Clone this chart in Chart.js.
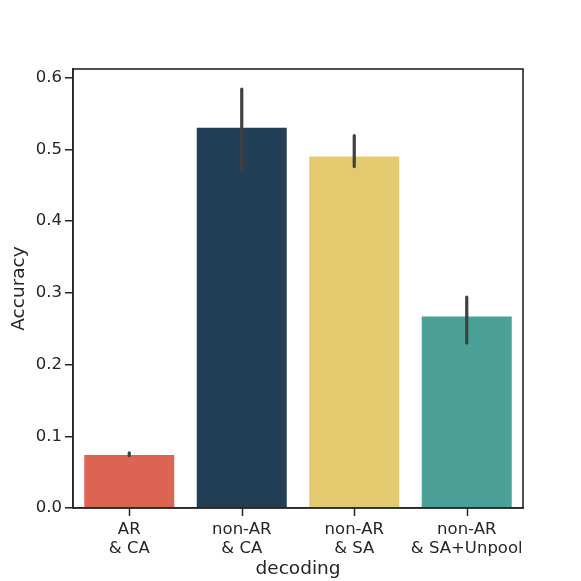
<!DOCTYPE html>
<html lang="en">
<head>
<meta charset="UTF-8">
<title>Accuracy by decoding</title>
<script src="https://cdn.jsdelivr.net/npm/chart.js"></script>
<style>
    html, body { margin: 0; padding: 0; background: #fff; }
    #wrap { width: 581px; height: 581px; }
</style>
</head>
<body>
<div id="wrap"><canvas id="myChart" width="581" height="581"></canvas></div>
<script>
    // data
    const categories = [['AR', '& CA'], ['non-AR', '& CA'], ['non-AR', '& SA'], ['non-AR', '& SA+Unpool']];
    const accuracy = [0.074, 0.530, 0.490, 0.267];
    const errLow = [0.073, 0.471, 0.476, 0.230];
    const errHigh = [0.077, 0.584, 0.519, 0.294];
    const yTicks = [0.0, 0.1, 0.2, 0.3, 0.4, 0.5, 0.6];
    const barColors = ['#db6552', '#233e57', '#e3ca6f', '#4ba097'];

    const ink = '#262626';

    // error bars, x tick marks under each bar, closed frame
    const extras = {
        id: 'extras',
        afterDraw(chart) {
            const ctx = chart.ctx;
            const x = chart.scales.x, y = chart.scales.y;
            const a = chart.chartArea;
            ctx.save();
            ctx.strokeStyle = '#404040';
            ctx.lineWidth = 3.2;
            ctx.lineCap = 'round';
            errLow.forEach((lo, i) => {
                const px = x.getPixelForValue(i);
                ctx.beginPath();
                ctx.moveTo(px, y.getPixelForValue(lo));
                ctx.lineTo(px, y.getPixelForValue(errHigh[i]));
                ctx.stroke();
            });
            ctx.strokeStyle = ink;
            ctx.lineCap = 'butt';
            ctx.lineWidth = 1.5;
            for (let i = 0; i < categories.length; i++) {
                const px = Math.round(x.getPixelForValue(i)) + 0.5;
                ctx.beginPath();
                ctx.moveTo(px, a.bottom);
                ctx.lineTo(px, a.bottom + 8);
                ctx.stroke();
            }
            ctx.lineWidth = 1.6;
            ctx.strokeRect(a.left, a.top, a.right - a.left, a.bottom - a.top);
            ctx.restore();
        }
    };

    Chart.defaults.font.family = "'DejaVu Sans', sans-serif";
    Chart.defaults.color = ink;

    new Chart('myChart', {
        type: 'bar',
        data: {
            labels: categories,
            datasets: [{
                data: accuracy,
                backgroundColor: barColors,
                categoryPercentage: 0.8,
                barPercentage: 1.0
            }]
        },
        options: {
            responsive: false,
            animation: false,
            layout: { padding: { top: 69, right: 58, left: 8, bottom: 0 } },
            plugins: { legend: { display: false }, tooltip: { enabled: false } },
            scales: {
                x: {
                    afterFit(s) { s.height = 73; },
                    grid: { drawOnChartArea: false, drawTicks: false },
                    border: { color: ink, width: 1.6 },
                    ticks: { autoSkip: false, font: { size: 16.5, lineHeight: 1.15 }, padding: 12, color: ink, maxRotation: 0 },
                    title: { display: true, text: 'decoding', font: { size: 18.5 }, color: ink, padding: { top: 0, bottom: 1 } }
                },
                y: {
                    min: 0,
                    max: 0.612,
                    afterFit(s) { s.width = 65; },
                    afterBuildTicks(s) { s.ticks = yTicks.map(v => ({ value: v })); },
                    grid: { drawOnChartArea: false, tickLength: 8, color: ink, lineWidth: 1.5 },
                    border: { color: ink, width: 1.6 },
                    ticks: { font: { size: 16.5 }, padding: 3, color: ink, callback: v => v.toFixed(1) },
                    title: { display: true, text: 'Accuracy', font: { size: 18.5 }, color: ink, padding: { top: 0, bottom: 0 } }
                }
            }
        },
        plugins: [extras]
    });
</script>
</body>
</html>
